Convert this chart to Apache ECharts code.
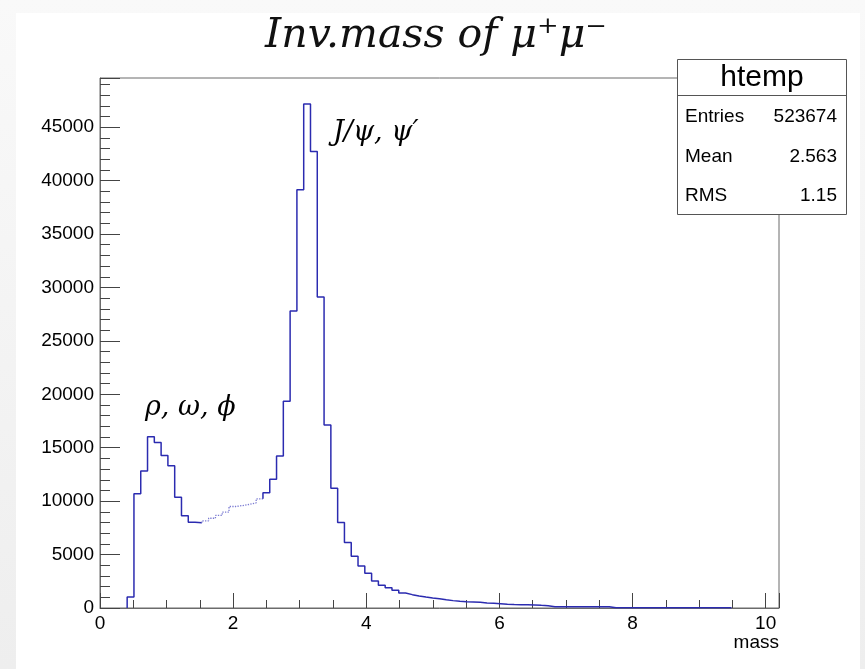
<!DOCTYPE html>
<html><head><meta charset="utf-8">
<script src="https://cdn.jsdelivr.net/npm/echarts@6/dist/echarts.min.js"></script>
<style>
html,body{margin:0;padding:0;width:865px;height:669px;overflow:hidden;background:linear-gradient(#f9f9f9,#eeeeee);}
#paper{position:absolute;left:16px;top:13px;width:844px;height:656px;background:#fff;}
#chart{position:absolute;left:0;top:0;width:865px;height:669px;}
</style></head><body>
<div id="paper"></div><div id="chart"></div>
<script>
// Histogram definition (ROOT-style: 100 bins from 0 to 10.2)
const nBins = 100;
const xMin = 0;
const xMax = 10.2;
const yMax = 49600;
// Bin contents
const counts = [
  0, 0, 0, 0, 1030, 10690, 12810, 16030, 15500, 14280,
  13310, 10375, 8625, 8030, 7970, 8160, 8400, 8660, 8970, 9500,
  9590, 9690, 9840, 10220, 10780, 12060, 14220, 19340, 27800, 39150,
  47160, 42720, 29100, 17130, 11200, 8000, 6125, 4840, 3940, 3250,
  2530, 2125, 1900, 1656, 1406, 1250, 1125, 1030, 940, 875,
  780, 690, 625, 590, 560, 530, 470, 440, 400, 340,
  320, 310, 300, 290, 250, 220, 125, 125, 125, 125,
  125, 125, 125, 125, 125, 30, 30, 30, 30, 30,
  30, 30, 30, 30, 30, 30, 30, 30, 30, 30,
  30, 30, 30, 0, 0, 0, 0, 0, 0, 0
];
// Bins drawn faintly (dotted) in the picture
const faintFirstBin = 15;
const faintLastBin = 23;
// Tick labels
const xTickLabels = [0, 2, 4, 6, 8, 10];
const yTickLabels = [0, 5000, 10000, 15000, 20000, 25000, 30000, 35000, 40000, 45000];
// Texts
const titleText = 'Inv.mass of μ⁺μ⁻';
const xAxisName = 'mass';
const peakLabels = ['ρ, ω, ϕ', 'J/ψ, ψ′'];
const statsName = 'htemp';
const statsKeys = ['Entries', 'Mean', 'RMS'];
const statsVals = ['523674', '2.563', '1.15'];

const binW = (xMax - xMin) / nBins;
const edges = [];
for (let i = 0; i <= nBins; i++) edges.push(+(xMin + i * binW).toFixed(6));
let first = counts.findIndex(v => v > 0);
let last = nBins - 1; while (counts[last] === 0) last--;

function outline(a, b, startFromZero, endAtZero) {
  const pts = [];
  pts.push([edges[a], startFromZero ? 0 : counts[a - 1]]);
  for (let i = a; i <= b; i++) { pts.push([edges[i], counts[i]]); pts.push([edges[i + 1], counts[i]]); }
  if (endAtZero) pts.push([edges[b + 1], 0]);
  return pts;
}
const segA = outline(first, faintFirstBin - 1, true, false);
const segB = outline(faintFirstBin, faintLastBin, false, false);
const segC = outline(faintLastBin + 1, last, false, true);

const FONT = '"Liberation Sans", Arial, sans-serif';
const SERIF = '"DejaVu Serif", "Liberation Serif", serif';
const frameColor = '#6b6b6b';
const tickColor = '#444';
const lineColor = '#2b2bb0';

const chart = echarts.init(document.getElementById('chart'), null, {renderer: 'canvas'});
const lineSeries = (data, style) => ({
  type: 'line', data, showSymbol: false, symbol: 'none', animation: false, silent: true,
  lineStyle: style, z: 3
});
chart.setOption({
  backgroundColor: 'transparent',
  animation: false,
  grid: {left: 100, right: 86, top: 78, bottom: 61, show: true, borderColor: frameColor, borderWidth: 1, backgroundColor: 'transparent'},
  xAxis: [
    {type: 'value', min: xMin, max: xMax, interval: 2, position: 'bottom',
     axisLine: {show: true, onZero: false, lineStyle: {color: frameColor, width: 1}},
     axisTick: {show: true, inside: true, length: 15, lineStyle: {color: tickColor}},
     axisLabel: {margin: 6, color: '#000', fontSize: 19, fontFamily: FONT,
       formatter: v => xTickLabels.includes(v) ? String(v) : ''},
     splitLine: {show: false}},
    {type: 'value', min: xMin, max: xMax, interval: 0.5, position: 'bottom',
     axisLine: {show: false, onZero: false}, axisLabel: {show: false},
     axisTick: {show: true, inside: true, length: 8, lineStyle: {color: tickColor}},
     splitLine: {show: false}}
  ],
  yAxis: [
    {type: 'value', min: 0, max: yMax, interval: 5000, position: 'left',
     axisLine: {show: true, onZero: false, lineStyle: {color: frameColor, width: 1}},
     axisTick: {show: true, inside: true, length: 20, lineStyle: {color: tickColor}},
     axisLabel: {margin: 6, color: '#000', fontSize: 19, fontFamily: FONT,
       formatter: v => yTickLabels.includes(v) ? String(v) : ''},
     splitLine: {show: false}},
    {type: 'value', min: 0, max: yMax, interval: 1000, position: 'left',
     axisLine: {show: false, onZero: false}, axisLabel: {show: false},
     axisTick: {show: true, inside: true, length: 10, lineStyle: {color: tickColor}},
     splitLine: {show: false}}
  ],
  series: [
    lineSeries(segA, {color: lineColor, width: 1.5}),
    lineSeries(segB, {color: '#7b7bd2', width: 1.3, type: 'dotted'}),
    lineSeries(segC, {color: lineColor, width: 1.5})
  ],
  graphic: [
    {type: 'text', x: 436, y: 36, z: 10, style: {text: titleText, font: 'italic 41px ' + SERIF, fill: '#111', align: 'center', verticalAlign: 'middle'}},
    {type: 'text', x: 779, y: 643, z: 10, style: {text: xAxisName, font: '19px ' + FONT, fill: '#000', align: 'right', verticalAlign: 'middle'}},
    {type: 'text', x: 145, y: 408, z: 10, style: {text: peakLabels[0], font: 'italic 27px ' + SERIF, fill: '#000', align: 'left', verticalAlign: 'middle'}},
    {type: 'text', x: 333, y: 133, z: 10, style: {text: peakLabels[1], font: 'italic 27px ' + SERIF, fill: '#000', align: 'left', verticalAlign: 'middle'}},
    {type: 'group', z: 20, children: [
      {type: 'rect', shape: {x: 677.5, y: 59.5, width: 169, height: 155}, style: {fill: '#fff', stroke: '#555', lineWidth: 1}},
      {type: 'line', shape: {x1: 677.5, y1: 95.5, x2: 846.5, y2: 95.5}, style: {stroke: '#555', lineWidth: 1}},
      {type: 'text', x: 762, y: 78, style: {text: statsName, font: '30px ' + FONT, fill: '#000', align: 'center', verticalAlign: 'middle'}},
      {type: 'text', x: 685, y: 117, style: {text: statsKeys[0], font: '19px ' + FONT, fill: '#000', align: 'left', verticalAlign: 'middle'}},
      {type: 'text', x: 837, y: 117, style: {text: statsVals[0], font: '19px ' + FONT, fill: '#000', align: 'right', verticalAlign: 'middle'}},
      {type: 'text', x: 685, y: 157, style: {text: statsKeys[1], font: '19px ' + FONT, fill: '#000', align: 'left', verticalAlign: 'middle'}},
      {type: 'text', x: 837, y: 157, style: {text: statsVals[1], font: '19px ' + FONT, fill: '#000', align: 'right', verticalAlign: 'middle'}},
      {type: 'text', x: 685, y: 196, style: {text: statsKeys[2], font: '19px ' + FONT, fill: '#000', align: 'left', verticalAlign: 'middle'}},
      {type: 'text', x: 837, y: 196, style: {text: statsVals[2], font: '19px ' + FONT, fill: '#000', align: 'right', verticalAlign: 'middle'}}
    ]}
  ]
});
</script>
</body></html>
